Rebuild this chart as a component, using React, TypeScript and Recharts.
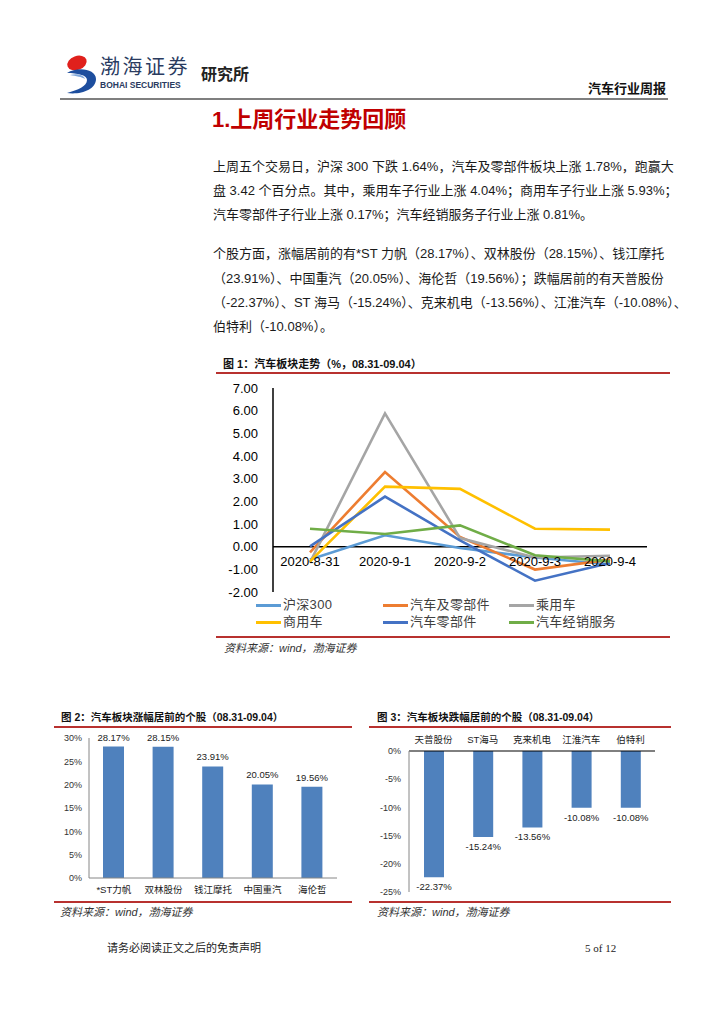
import React from 'react';
import { LineChart, Line, BarChart, Bar, XAxis, YAxis, ReferenceLine, ReferenceDot, LabelList } from 'recharts';

// 图1 汽车板块走势 (%)
const dates = ['2020-8-31', '2020-9-1', '2020-9-2', '2020-9-3', '2020-9-4'];
const hs300 = [-0.57, 0.5, -0.06, -0.48, -0.79];
const autoAll = [-0.25, 3.29, 0.43, -1.01, -0.57];
const passenger = [-0.69, 5.88, 0.38, -0.48, -0.4];
const commercial = [-0.65, 2.65, 2.55, 0.79, 0.75];
const parts = [0.01, 2.21, 0.28, -1.5, -0.72];
const dealer = [0.79, 0.56, 0.94, -0.38, -0.65];
const lineTicks = [-2, -1, 0, 1, 2, 3, 4, 5, 6, 7];

// 图2 涨幅居前
const gainNames = ['*ST力帆', '双林股份', '钱江摩托', '中国重汽', '海伦哲'];
const gainValues = [28.17, 28.15, 23.91, 20.05, 19.56];
const gainTicks = [0, 5, 10, 15, 20, 25, 30];

// 图3 跌幅居前
const lossNames = ['天普股份', 'ST海马', '克来机电', '江淮汽车', '伯特利'];
const lossValues = [-22.37, -15.24, -13.56, -10.08, -10.08];
const lossTicks = [-25, -20, -15, -10, -5, 0];

const series = [
  { key: 'hs300', name: '沪深300', color: '#5B9BD5', values: hs300 },
  { key: 'autoAll', name: '汽车及零部件', color: '#ED7D31', values: autoAll },
  { key: 'passenger', name: '乘用车', color: '#A5A5A5', values: passenger },
  { key: 'commercial', name: '商用车', color: '#FFC000', values: commercial },
  { key: 'parts', name: '汽车零部件', color: '#4472C4', values: parts },
  { key: 'dealer', name: '汽车经销服务', color: '#70AD47', values: dealer },
];

const lineData = dates.map((d, i) => {
  const row: any = { date: d };
  series.forEach((s) => (row[s.key] = s.values[i]));
  return row;
});
const gainData = gainNames.map((n, i) => ({ name: n, value: gainValues[i] }));
const lossData = lossNames.map((n, i) => ({ name: n, value: lossValues[i] }));

const FONT = "'Liberation Sans', 'Noto Sans CJK SC', sans-serif";
const RED = '#b8312f';

const abs = (left: number, top: number, extra: React.CSSProperties = {}): React.CSSProperties => ({
  position: 'absolute',
  left,
  top,
  ...extra,
});

const pct = (v: any) => `${Number(v).toFixed(2)}%`;

// label under the end of a negative bar
const BelowLabel = (props: any) => {
  const x = Number(props.x);
  const y = Number(props.y);
  const w = Number(props.width);
  const h = Number(props.height);
  const end = Math.max(y, y + h);
  return (
    <text x={x + w / 2} y={end + 6} dy="0.71em" textAnchor="middle" fontSize={9.5} fill="#222" fontFamily={FONT}>
      {pct(props.value)}
    </text>
  );
};

const paraLines = [
  { c: 166.7, t: '上周五个交易日，沪深 300 下跌 1.64%，汽车及零部件板块上涨 1.78%，跑赢大', j: true },
  { c: 190.7, t: '盘 3.42 个百分点。其中，乘用车子行业上涨 4.04%；商用车子行业上涨 5.93%；', j: true },
  { c: 215, t: '汽车零部件子行业上涨 0.17%；汽车经销服务子行业上涨 0.81%。', j: false },
  { c: 254, t: '个股方面，涨幅居前的有*ST 力帆（28.17%）、双林股份（28.15%）、钱江摩托', j: true },
  { c: 279.3, t: '（23.91%）、中国重汽（20.05%）、海伦哲（19.56%）；跌幅居前的有天普股份', j: true },
  { c: 303, t: '（-22.37%）、ST 海马（-15.24%）、克来机电（-13.56%）、江淮汽车（-10.08%）、', j: true },
  { c: 327.3, t: '伯特利（-10.08%）。', j: false },
];

const Source = ({ left, top }: { left: number; top: number }) => (
  <div style={abs(left, top, { fontSize: 11, fontStyle: 'italic', color: '#333', lineHeight: '14px' })}>
    资料来源：wind，渤海证券
  </div>
);

const Rule = ({ left, top, width }: { left: number; top: number; width: number }) => (
  <div style={abs(left, top, { width, height: 2, background: RED })} />
);

export default function App() {
  return (
    <div style={abs(0, 0, { width: 724, height: 1024, background: '#fff', fontFamily: FONT, color: '#111' })}>
      {/* header */}
      <svg style={abs(64, 52)} width={36} height={44}>
        <ellipse cx={13} cy={11} rx={10} ry={7} fill="#e0201c" transform="rotate(-20 13 11)" />
        <path d="M3 21 C14 14, 32 17, 32 27 C32 38, 16 43, 3 41 C14 38, 23 34, 23 28 C23 23, 13 21, 3 21 Z" fill="#1d4e9e" />
        <path d="M6 23 C13 21, 20 23, 21 27 C18 25, 12 24, 6 23 Z" fill="#7fa7db" />
      </svg>
      <div style={abs(100, 55, { fontSize: 20, letterSpacing: 2.5, color: '#2a3b5f', lineHeight: '24px' })}>渤海证券</div>
      <div style={abs(100, 80, { fontSize: 8.5, fontWeight: 'bold', color: '#2a3b5f', lineHeight: '11px' })}>BOHAI SECURITIES</div>
      <div style={abs(201, 65, { fontSize: 16, fontWeight: 'bold', color: '#222', lineHeight: '20px' })}>研究所</div>
      <div style={abs(560, 81, { width: 106, textAlign: 'right', fontSize: 13, fontWeight: 'bold', lineHeight: '16px' })}>
        汽车行业周报
      </div>
      <div style={abs(60, 98, { width: 608, height: 2, background: '#7f7f7f' })} />

      {/* title + paragraphs */}
      <div style={abs(212, 106, { fontSize: 22, fontWeight: 'bold', color: '#c00000', lineHeight: '28px' })}>
        1.上周行业走势回顾
      </div>
      {paraLines.map((l, i) => (
        <div
          key={i}
          style={abs(213, l.c - 12, {
            width: 446,
            fontSize: 13,
            lineHeight: '24px',
            color: '#1a1a1a',
            whiteSpace: 'nowrap',
            textAlign: l.j ? 'justify' : 'left',
            textAlignLast: l.j ? 'justify' : 'auto',
          })}
        >
          {l.t}
        </div>
      ))}

      {/* 图1 */}
      <div style={abs(223, 357, { fontSize: 11, fontWeight: 'bold', lineHeight: '14px' })}>
        图 1：汽车板块走势（%，08.31-09.04）
      </div>
      <Rule left={216} top={372} width={454} />
      <div style={abs(216, 378)}>
        <LineChart width={454} height={224} data={lineData} margin={{ top: 10, right: 23, bottom: 10, left: 0 }}>
          <XAxis dataKey="date" hide padding={{ left: 37, right: 37 }} />
          <YAxis
            domain={[-2, 7]}
            ticks={lineTicks}
            interval={0}
            width={57}
            tickFormatter={(v: number) => v.toFixed(2)}
            tick={{ fontSize: 13, fill: '#000', fontFamily: FONT }}
            axisLine={{ stroke: '#000', strokeWidth: 1.5 }}
            tickLine={false}
            tickSize={0}
            tickMargin={15}
          />
          <ReferenceLine y={0} stroke="#000" strokeWidth={1.5} />
          {dates.map((d) => (
            <ReferenceDot
              key={d}
              x={d}
              y={0}
              r={0}
              stroke="none"
              fill="none"
              label={{ value: d, position: 'bottom', offset: 10, fontSize: 13, fill: '#000', fontFamily: FONT }}
            />
          ))}
          {series.map((s) => (
            <Line
              key={s.key}
              dataKey={s.key}
              name={s.name}
              stroke={s.color}
              strokeWidth={2.6}
              dot={false}
              isAnimationActive={false}
            />
          ))}
        </LineChart>
      </div>
      {series.map((s, i) => {
        const col = i % 3;
        const row = Math.floor(i / 3);
        const left = [256, 383, 509][col];
        const cy = [605, 622][row];
        return (
          <div key={s.key} style={abs(left, cy - 8, { height: 16, display: 'flex', alignItems: 'center' })}>
            <div style={{ width: 25, height: 3, background: s.color, marginRight: 2 }} />
            <span style={{ fontSize: 13, color: '#404040', lineHeight: '16px', letterSpacing: 0.3 }}>{s.name}</span>
          </div>
        );
      })}
      <Rule left={216} top={636} width={454} />
      <Source left={224} top={641} />

      {/* 图2 */}
      <div style={abs(61, 710, { fontSize: 10.5, fontWeight: 'bold', lineHeight: '14px' })}>
        图 2：汽车板块涨幅居前的个股（08.31-09.04）
      </div>
      <Rule left={54} top={726} width={298} />
      <div style={abs(50, 725)}>
        <BarChart width={300} height={175} data={gainData} margin={{ top: 13, right: 13, bottom: 0, left: 0 }} barSize={21}>
          <XAxis
            dataKey="name"
            height={22}
            interval={0}
            tick={{ fontSize: 9.5, fill: '#222', fontFamily: FONT }}
            axisLine={{ stroke: '#868686' }}
            tickLine={false}
            tickSize={0}
            tickMargin={8}
          />
          <YAxis
            domain={[0, 30]}
            ticks={gainTicks}
            interval={0}
            width={39}
            tickFormatter={(v: number) => `${v}%`}
            tick={{ fontSize: 9, fill: '#333', fontFamily: FONT }}
            axisLine={{ stroke: '#868686' }}
            tickLine={false}
            tickSize={0}
            tickMargin={7}
          />
          <Bar dataKey="value" fill="#4F81BD" isAnimationActive={false}>
            <LabelList
              dataKey="value"
              position="top"
              offset={6}
              formatter={pct}
              style={{ fontSize: 9.5, fill: '#222', fontFamily: FONT }}
            />
          </Bar>
        </BarChart>
      </div>
      <Rule left={54} top={901} width={298} />
      <Source left={60} top={905} />

      {/* 图3 */}
      <div style={abs(377, 710, { fontSize: 10.5, fontWeight: 'bold', lineHeight: '14px' })}>
        图 3：汽车板块跌幅居前的个股（08.31-09.04）
      </div>
      <Rule left={369} top={726} width={302} />
      <div style={abs(365, 725)}>
        <BarChart width={305} height={177} data={lossData} margin={{ top: 0, right: 15, bottom: 10, left: 0 }} barSize={20}>
          <XAxis
            dataKey="name"
            orientation="top"
            height={26}
            interval={0}
            tick={{ fontSize: 9.5, fill: '#222', fontFamily: FONT }}
            axisLine={{ stroke: '#000' }}
            tickLine={false}
            tickSize={0}
            tickMargin={8}
          />
          <YAxis
            domain={[-25, 0]}
            ticks={lossTicks}
            interval={0}
            width={44}
            tickFormatter={(v: number) => `${v}%`}
            tick={{ fontSize: 9, fill: '#333', fontFamily: FONT }}
            axisLine={{ stroke: '#868686' }}
            tickLine={false}
            tickSize={0}
            tickMargin={8}
          />
          <Bar dataKey="value" fill="#4F81BD" isAnimationActive={false}>
            <LabelList dataKey="value" content={<BelowLabel />} />
          </Bar>
        </BarChart>
      </div>
      <Rule left={369} top={901} width={302} />
      <Source left={377} top={905} />

      {/* footer */}
      <div style={abs(107, 941, { fontSize: 11, color: '#222', lineHeight: '14px' })}>请务必阅读正文之后的免责声明</div>
      <div style={abs(585, 941, { fontSize: 11, fontFamily: "'Liberation Serif', serif", color: '#222', lineHeight: '14px' })}>
        5 of 12
      </div>
    </div>
  );
}
